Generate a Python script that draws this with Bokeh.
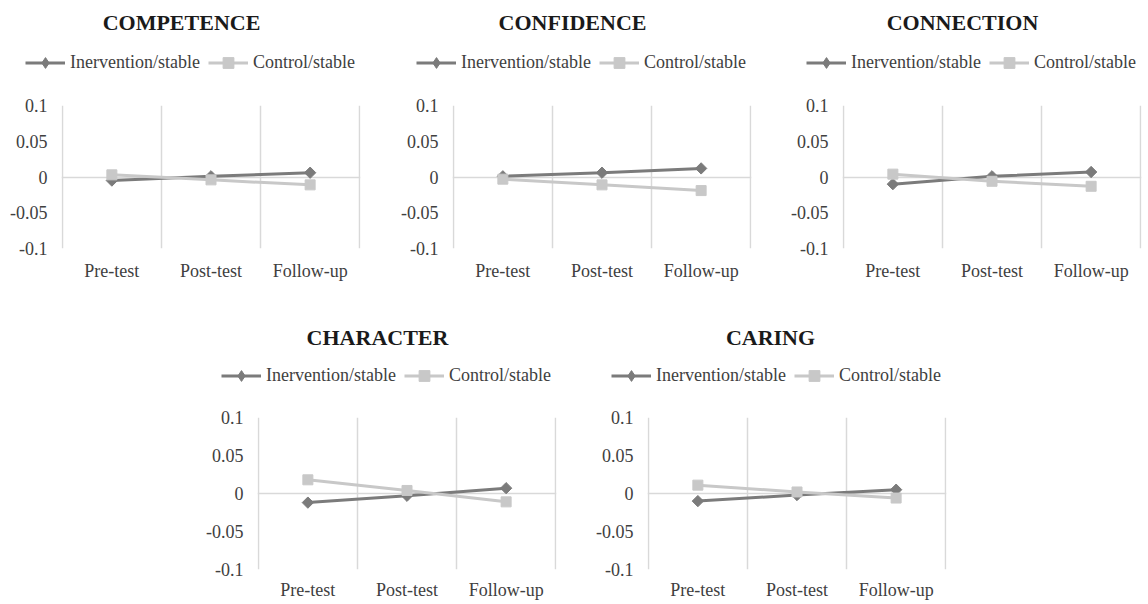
import numpy as np
from bokeh.plotting import figure
from bokeh.layouts import row, column, Spacer
from bokeh.models import (Range1d, FixedTicker, PrintfTickFormatter, Legend,
                          LegendItem, Label)
from bokeh.embed import file_html
from bokeh.resources import INLINE

# ---------------- data ----------------
time_points = ["Pre-test", "Post-test", "Follow-up"]
series_names = ["Inervention/stable", "Control/stable"]
y_ticks = [-0.1, -0.05, 0, 0.05, 0.1]

panel_titles = ["COMPETENCE", "CONFIDENCE", "CONNECTION", "CHARACTER", "CARING"]

competence_intervention = [-0.005, 0.001, 0.006]
competence_control = [0.003, -0.004, -0.011]

confidence_intervention = [0.001, 0.006, 0.012]
confidence_control = [-0.003, -0.011, -0.019]

connection_intervention = [-0.010, 0.001, 0.007]
connection_control = [0.004, -0.006, -0.013]

character_intervention = [-0.012, -0.003, 0.007]
character_control = [0.018, 0.004, -0.011]

caring_intervention = [-0.010, -0.002, 0.005]
caring_control = [0.011, 0.002, -0.006]

# ---------------- style ----------------
FONT = "Liberation Serif"
DARK = "#7b7b7b"
LIGHT = "#c8c8c8"
GRID = "#d9d9d9"
TEXT = "#404040"
PAGE_W = 1148
LEG_H = 27


def series_glyphs(p, xs, inter, ctrl, for_legend=False):
    l1 = p.line(xs, inter, line_color=DARK, line_width=3)
    if for_legend:
        s1 = p.scatter(xs, inter, marker="diamond", size=13,
                       fill_color=DARK, line_color=DARK)
    else:
        s1 = p.scatter(xs, inter, marker="square", angle=np.pi / 4, size=8,
                       fill_color=DARK, line_color=DARK)
    l2 = p.line(xs, ctrl, line_color=LIGHT, line_width=3)
    s2 = p.scatter(xs, ctrl, marker="square", size=10,
                   fill_color=LIGHT, line_color=LIGHT)
    return l1, s1, l2, s2


def make_header(head_h, titles, frame_lefts, title_from_top, legend_from_top,
                title_dx=(120, 120, 120), legend_dx=-36):
    """Full-width strip holding panel titles and legends (pixel coordinates)."""
    h = figure(width=PAGE_W, height=head_h, x_range=Range1d(0, PAGE_W),
               y_range=Range1d(0, head_h), min_border=0,
               x_axis_type=None, y_axis_type=None,
               output_backend="svg", toolbar_location=None)
    h.outline_line_color = None
    h.grid.visible = False
    h.border_fill_color = "white"
    # legend-only renderers (nothing visible in the strip)
    hl1, hs1, hl2, hs2 = series_glyphs(h, [np.nan], [np.nan], [np.nan], for_legend=True)
    for t, fl, dx in zip(titles, frame_lefts, title_dx):
        legend = Legend(items=[LegendItem(label=series_names[0], renderers=[hl1, hs1]),
                               LegendItem(label=series_names[1], renderers=[hl2, hs2])],
                        orientation="horizontal",
                        location=(fl + legend_dx, head_h - legend_from_top - LEG_H / 2),
                        padding=0, margin=0, spacing=8,
                        glyph_width=40, glyph_height=LEG_H, label_height=LEG_H,
                        label_standoff=5,
                        label_text_font=FONT, label_text_font_size="18px",
                        label_text_color=TEXT,
                        border_line_color=None, background_fill_alpha=0)
        h.add_layout(legend)
        h.add_layout(Label(x=fl + dx, y=head_h - title_from_top, text=t,
                           text_align="center", text_baseline="middle",
                           text_font=FONT, text_font_style="bold",
                           text_font_size="22px", text_color="#1a1a1a"))
    return h


def make_chart(inter, ctrl, bl, fw, br, fh, bb, x_standoff):
    n = len(time_points)
    bt = 13
    pad = 0.008
    p = figure(width=bl + fw + br, height=bt + fh + bb,
               min_border_left=bl, min_border_right=br,
               min_border_top=bt, min_border_bottom=bb,
               x_range=Range1d(-pad, n + pad),
               y_range=Range1d(min(y_ticks), max(y_ticks)),
               output_backend="svg", toolbar_location=None)
    p.outline_line_color = None
    p.border_fill_color = "white"

    xs = np.arange(n) + 0.5
    p.xaxis.ticker = FixedTicker(ticks=list(xs))
    p.xaxis.major_label_overrides = {float(x): t for x, t in zip(xs, time_points)}
    p.yaxis.ticker = FixedTicker(ticks=y_ticks)
    p.yaxis.formatter = PrintfTickFormatter(format="%g")
    for ax in (p.xaxis, p.yaxis):
        ax.axis_line_color = None
        ax.major_tick_line_color = None
        ax.minor_tick_line_color = None
        ax.major_tick_out = 0
        ax.major_tick_in = 0
        ax.major_label_text_font = FONT
        ax.major_label_text_font_size = "18px"
        ax.major_label_text_color = TEXT
    p.yaxis.major_label_standoff = 14
    p.xaxis.major_label_standoff = x_standoff

    p.xgrid.ticker = FixedTicker(ticks=list(range(n + 1)))
    p.xgrid.grid_line_color = GRID
    p.xgrid.grid_line_width = 1.5
    p.ygrid.ticker = FixedTicker(ticks=[0])
    p.ygrid.grid_line_color = GRID
    p.ygrid.grid_line_width = 1.5

    series_glyphs(p, xs, inter, ctrl)
    return p


# ---- top row: charts 396 + 390 + 362 px wide ----
p1 = make_chart(competence_intervention, competence_control, 61, 299, 36, 143, 71, 12)
p2 = make_chart(confidence_intervention, confidence_control, 56, 299, 35, 143, 71, 12)
p3 = make_chart(connection_intervention, connection_control, 56, 299, 7, 143, 71, 12)
top_lefts = [61, 396 + 56, 396 + 390 + 56]
h_top = make_header(92, panel_titles[:3], top_lefts, 22, 62)

# ---- bottom row: spacer 201, charts 390 + 390 ----
p4 = make_chart(character_intervention, character_control, 56, 299, 35, 155, 30, 10)
p5 = make_chart(caring_intervention, caring_control, 56, 299, 35, 155, 30, 10)
bottom_lefts = [201 + 56, 201 + 390 + 56]
h_bot = make_header(85, panel_titles[3:], bottom_lefts, 18, 56,
                    title_dx=(120, 123))

layout = column(h_top,
                row(p1, p2, p3, spacing=0),
                h_bot,
                row(Spacer(width=201, height=198), p4, p5, spacing=0),
                spacing=0)

open("out.html", "w").write(file_html(layout, INLINE))
